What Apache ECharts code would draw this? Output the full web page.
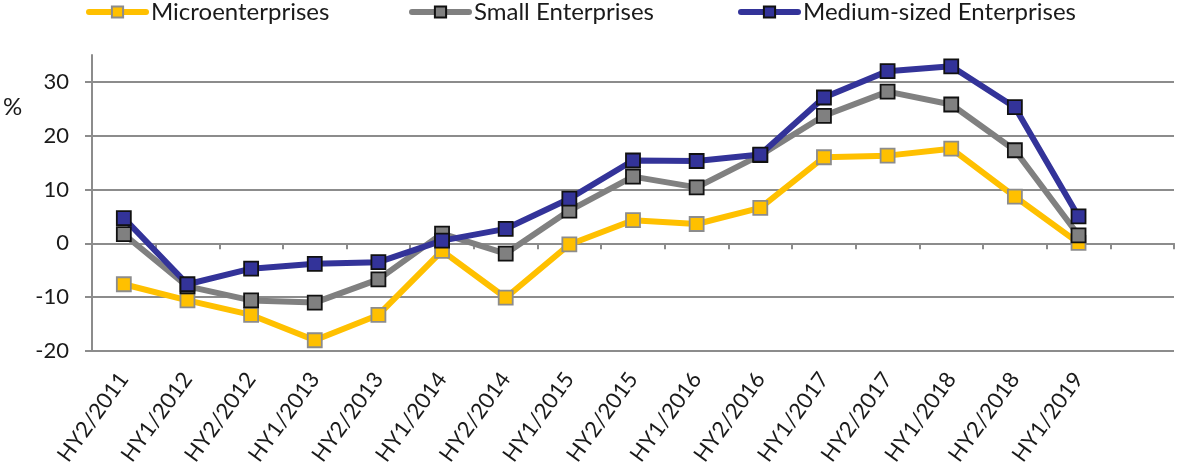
<!DOCTYPE html>
<html>
<head>
<meta charset="utf-8">
<script src="https://cdn.jsdelivr.net/npm/echarts@6/dist/echarts.min.js"></script>
<style>html,body{margin:0;padding:0;background:#fff}#c{width:1177px;height:473px}</style>
</head>
<body>
<div id="c"></div>
<script>
const categories = ['HY2/2011','HY1/2012','HY2/2012','HY1/2013','HY2/2013','HY1/2014','HY2/2014','HY1/2015','HY2/2015','HY1/2016','HY2/2016','HY1/2017','HY2/2017','HY1/2018','HY2/2018','HY1/2019',''];
const micro  = [-7.6, -10.6, -13.3, -18.0, -13.3, -1.4, -10.1, -0.2, 4.3, 3.6, 6.6, 16.0, 16.3, 17.6, 8.7, 0.1];
const small  = [1.7, -8.0, -10.6, -11.0, -6.7, 1.8, -1.9, 6.1, 12.4, 10.4, 16.4, 23.7, 28.2, 25.8, 17.3, 1.5];
const medium = [4.7, -7.6, -4.7, -3.8, -3.5, 0.5, 2.7, 8.3, 15.4, 15.3, 16.5, 27.1, 32.0, 32.9, 25.3, 5.0];
const seriesNames = ['Microenterprises', 'Small Enterprises', 'Medium-sized Enterprises'];
const yTicks = {min: -20, max: 35, interval: 10};

const FONT = 'Lato';
const grey = '#8c8c8c';
const txt = '#1a1a1a';
const chart = echarts.init(document.getElementById('c'), null, {renderer: 'canvas'});

function mk(name, data, color, border) {
  return {
    name: name, type: 'line', data: data, xAxisIndex: 0, yAxisIndex: 0,
    symbol: 'rect', symbolSize: 14,
    lineStyle: {color: color, width: 6, cap: 'round', join: 'round'},
    itemStyle: {color: color, borderColor: border, borderWidth: 1.8},
    emphasis: {disabled: true}, animation: false
  };
}
function lg(name, left) {
  return {
    data: [name], left: left, top: 0, itemWidth: 57, itemHeight: 14, padding: 0,
    lineStyle: {width: 6, cap: 'round'},
    textStyle: {fontFamily: FONT, fontSize: 24, color: txt}
  };
}
const gridPos = {left: 92, right: 3, top: 55, bottom: 122, containLabel: false};

chart.setOption({
  animation: false,
  legend: [lg(seriesNames[0], 86), lg(seriesNames[1], 409), lg(seriesNames[2], 738)],
  graphic: [{type: 'text', left: 3, top: 95, style: {text: '%', fontFamily: FONT, fontSize: 24, fill: txt}}],
  grid: [Object.assign({}, gridPos), Object.assign({}, gridPos)],
  xAxis: [
    {gridIndex: 0, type: 'category', data: categories, position: 'bottom', boundaryGap: true,
     axisLine: {show: false, onZero: false}, axisTick: {show: false}, splitLine: {show: false},
     axisLabel: {rotate: 54, margin: 24, interval: 0, fontFamily: FONT, fontSize: 22, color: txt}},
    {gridIndex: 1, type: 'category', data: categories, position: 'bottom', boundaryGap: true, z: 1,
     axisLine: {show: true, onZero: true, lineStyle: {color: grey, width: 2}},
     axisTick: {show: true, inside: false, length: 6, interval: 0, lineStyle: {color: grey, width: 2}},
     axisLabel: {show: false}, splitLine: {show: false}}
  ],
  yAxis: [
    {gridIndex: 0, type: 'value', min: yTicks.min, max: yTicks.max, interval: yTicks.interval,
     axisLine: {show: true, lineStyle: {color: grey, width: 2}},
     axisTick: {show: true, length: 7, lineStyle: {color: grey, width: 2}},
     axisLabel: {showMaxLabel: false, margin: 23, fontFamily: FONT, fontSize: 22, color: txt},
     splitLine: {show: true, lineStyle: {color: [grey, grey, grey, grey, grey, grey, 'rgba(0,0,0,0)'], width: 2}}},
    {gridIndex: 1, type: 'value', min: yTicks.min, max: yTicks.max, interval: yTicks.interval,
     axisLine: {show: false}, axisTick: {show: false}, axisLabel: {show: false}, splitLine: {show: false}}
  ],
  series: [
    mk(seriesNames[0], micro, '#FFC000', '#8c8c8c'),
    mk(seriesNames[1], small, '#808080', '#111111'),
    mk(seriesNames[2], medium, '#333399', '#111111')
  ]
});
</script>
</body>
</html>
